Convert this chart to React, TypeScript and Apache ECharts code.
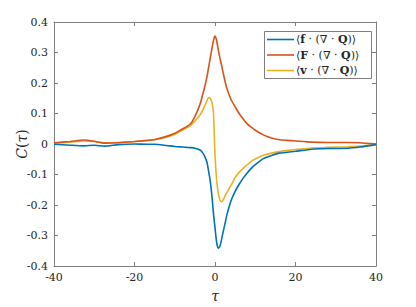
import React, { useEffect, useRef } from "react";
import * as echarts from "echarts";

const tau = [-40, -36, -32.5, -30, -27.5, -24, -20, -17, -15, -12, -10, -8, -7, -6, -5, -4, -3.5, -3, -2.5, -2, -1.6, -1.2, -0.8, -0.4, 0, 0.4, 0.8, 1.2, 1.6, 2, 2.5, 3, 4, 5, 6, 7, 8, 9, 10, 12, 14, 16, 18, 20, 24, 28, 33, 36, 40];

const cF = [-0.001, -0.004, -0.006, -0.004, -0.007, -0.002, 0.0, -0.001, -0.001, -0.005, -0.008, -0.01, -0.011, -0.012, -0.014, -0.018, -0.022, -0.03, -0.042, -0.06, -0.088, -0.12, -0.165, -0.225, -0.275, -0.322, -0.342, -0.336, -0.315, -0.29, -0.26, -0.23, -0.185, -0.155, -0.132, -0.112, -0.095, -0.08, -0.068, -0.048, -0.038, -0.03, -0.027, -0.024, -0.017, -0.015, -0.014, -0.01, -0.002];

const cBigF = [0.004, 0.008, 0.013, 0.009, 0.003, 0.004, 0.008, 0.012, 0.015, 0.025, 0.035, 0.05, 0.057, 0.067, 0.09, 0.12, 0.14, 0.165, 0.19, 0.22, 0.25, 0.28, 0.31, 0.338, 0.354, 0.34, 0.31, 0.283, 0.26, 0.235, 0.205, 0.18, 0.145, 0.122, 0.1, 0.082, 0.066, 0.055, 0.045, 0.03, 0.02, 0.014, 0.012, 0.01, 0.006, 0.005, 0.005, 0.004, 0.0];

const cV = [0.003, 0.006, 0.01, 0.008, 0.004, 0.005, 0.008, 0.011, 0.014, 0.022, 0.032, 0.046, 0.053, 0.062, 0.075, 0.09, 0.1, 0.112, 0.127, 0.142, 0.152, 0.15, 0.138, 0.106, -0.036, -0.118, -0.16, -0.183, -0.189, -0.184, -0.17, -0.158, -0.135, -0.11, -0.093, -0.08, -0.068, -0.057, -0.049, -0.037, -0.03, -0.025, -0.021, -0.018, -0.013, -0.011, -0.009, -0.007, 0.0];

const seriesNames = ["f", "F", "v"];
const colors = ["#0072BD", "#D95319", "#EDB120"];
const xTicks = [-40, -20, 0, 20, 40];
const yTicks = [-0.4, -0.3, -0.2, -0.1, 0, 0.1, 0.2, 0.3, 0.4];

const FONT = "DejaVu Serif";

export default function App() {
  const ref = useRef<HTMLDivElement>(null);
  useEffect(() => {
    if (!ref.current) return;
    const chart = echarts.init(ref.current, null, { renderer: "svg" });
    const values = [cF, cBigF, cV];
    const axisLine = { show: true, onZero: false, lineStyle: { color: "#7f7f7f", width: 1 } };
    const axisTick = { show: true, inside: true, length: 4, lineStyle: { color: "#7f7f7f", width: 1 } };
    const legendRows = seriesNames.map((n, i) => [
      {
        type: "line",
        shape: { x1: 267, y1: 39.5 + i * 15.5, x2: 294, y2: 39.5 + i * 15.5 },
        style: { stroke: colors[i], lineWidth: 1.6 },
      },
      {
        type: "text",
        x: 296,
        y: 39.5 + i * 15.5,
        style: {
          text: "⟨{b|" + n + "} · (∇ · {b|Q})⟩",
          fontFamily: FONT,
          fontSize: 11,
          fill: "#262626",
          verticalAlign: "middle",
          rich: {
            b: { fontWeight: "bold", fontFamily: FONT, fontSize: 11, fill: "#262626" },
          },
        },
      },
    ]).flat();
    chart.setOption({
      animation: false,
      backgroundColor: "#ffffff",
      textStyle: { fontFamily: FONT },
      grid: { left: 54, right: 40, top: 22, bottom: 41 },
      xAxis: [
        {
          type: "value",
          min: -40,
          max: 40,
          interval: 20,
          axisLine,
          axisTick,
          splitLine: { show: false },
          axisLabel: {
            color: "#262626",
            fontFamily: FONT,
            fontSize: 11,
            margin: 6,
            formatter: (v: number) => (xTicks.includes(v) ? String(v) : ""),
          },
        },
        {
          type: "value",
          position: "top",
          min: -40,
          max: 40,
          interval: 20,
          axisLine,
          axisTick,
          splitLine: { show: false },
          axisLabel: { show: false },
        },
      ],
      yAxis: [
        {
          type: "value",
          min: -0.4,
          max: 0.4,
          interval: 0.1,
          axisLine,
          axisTick,
          splitLine: { show: false },
          axisLabel: {
            color: "#262626",
            fontFamily: FONT,
            fontSize: 11,
            margin: 6,
            formatter: (v: number) => {
              const r = Math.round(v * 10) / 10;
              const t = yTicks.find((y) => Math.abs(y - r) < 1e-9);
              if (t === undefined) return "";
              return t === 0 ? "0" : t.toFixed(1);
            },
          },
        },
        {
          type: "value",
          position: "right",
          min: -0.4,
          max: 0.4,
          interval: 0.1,
          axisLine,
          axisTick,
          splitLine: { show: false },
          axisLabel: { show: false },
        },
      ],
      series: values.map((vals, i) => ({
        type: "line",
        name: seriesNames[i],
        data: tau.map((t, j) => [t, vals[j]]),
        symbol: "none",
        smooth: 0.2,
        lineStyle: { color: colors[i], width: 1.6 },
        z: 3 - i,
      })),
      graphic: [
        {
          type: "text",
          x: 22,
          y: 144,
          rotation: Math.PI / 2,
          style: {
            text: "{i|C}({i|τ})",
            fontFamily: FONT,
            fontSize: 14,
            fill: "#262626",
            align: "center",
            verticalAlign: "middle",
            rich: { i: { fontStyle: "italic", fontFamily: FONT, fontSize: 14, fill: "#262626" } },
          },
        },
        {
          type: "text",
          x: 215,
          y: 296,
          style: {
            text: "τ",
            fontFamily: FONT,
            fontStyle: "italic",
            fontSize: 14,
            fill: "#262626",
            align: "center",
            verticalAlign: "middle",
          },
        },
        {
          type: "rect",
          shape: { x: 264.5, y: 31.5, width: 107, height: 47 },
          style: { fill: "#ffffff", stroke: "#7f7f7f", lineWidth: 1 },
          z: 10,
        },
        ...legendRows.map((e) => ({ ...e, z: 11 })),
      ],
    });
    return () => chart.dispose();
  }, []);
  return (
    <div
      ref={ref}
      style={{ position: "fixed", left: 0, top: 0, width: 416, height: 307 }}
    />
  );
}
